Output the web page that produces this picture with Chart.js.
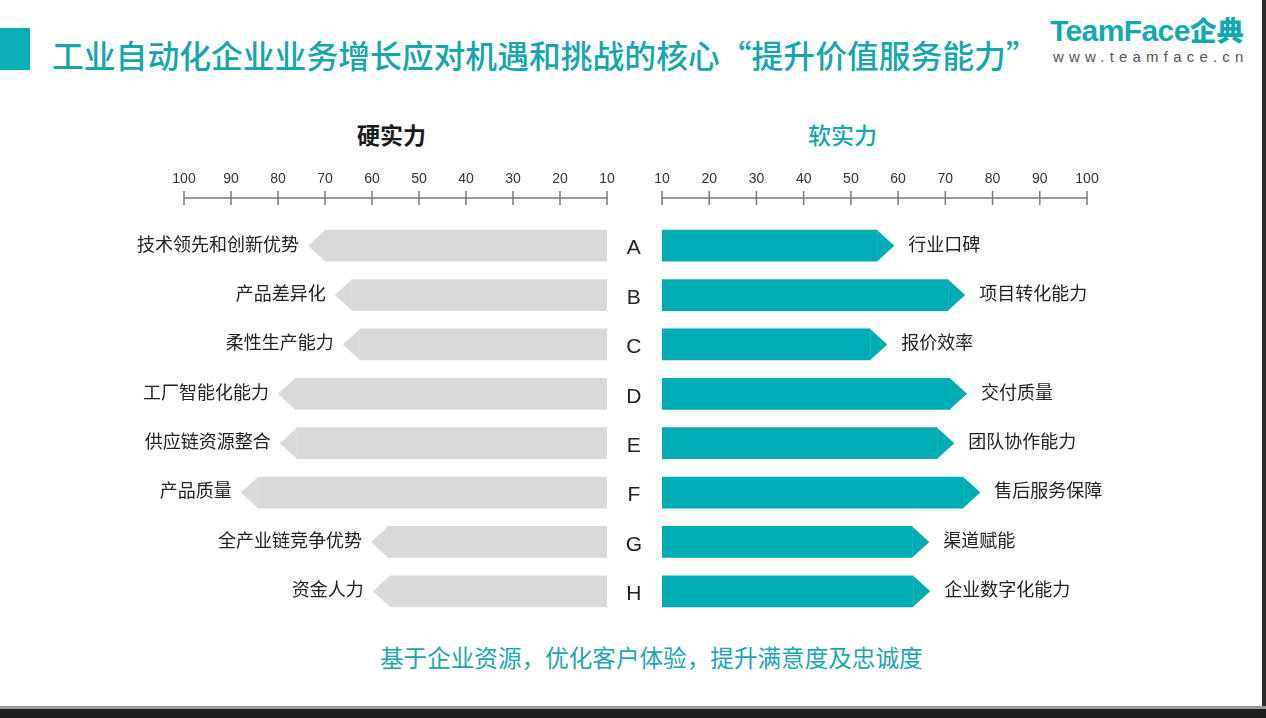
<!DOCTYPE html>
<html>
<head>
<meta charset="utf-8">
<script src="https://cdn.jsdelivr.net/npm/chart.js@4.4.0/dist/chart.umd.min.js"></script>
<style>
  body { margin: 0; width: 1266px; height: 718px; overflow: hidden; background: #fff; position: relative;
         font-family: "Noto Sans CJK SC", sans-serif; }
  .abs { position: absolute; white-space: nowrap; }
  #mark { left: 0; top: 28px; width: 30px; height: 42px; background: #0aadb5; }
  #title { left: 52px; top: 32px; font-size: 31.8px; line-height: 44px; color: #15a6ae; font-weight: 500; }
  #logo { left: 1050px; top: 13px; font-family: "Liberation Sans", sans-serif; font-weight: bold; font-size: 30px;
          line-height: 34px; color: #12a9b1; letter-spacing: -0.6px; }
  #logo span { font-family: "Noto Sans CJK SC"; font-weight: 900; font-size: 27px; letter-spacing: 0; }
  #site { left: 1053px; top: 47px; font-family: "Liberation Sans", sans-serif; font-size: 15px; line-height: 20px;
          color: #555; letter-spacing: 5.2px; }
  .head { top: 118px; font-size: 23px; line-height: 32px; font-weight: bold; }
  #hard { left: 357px; color: #1a1a1a; }
  #soft { left: 808px; color: #15a6ae; font-weight: 500; }
  #foot { left: 380px; top: 640px; font-size: 23.6px; line-height: 34px; color: #1aa7af; }
  #leftChart { left: 0; top: 160px; }
  #rightChart { left: 607px; top: 160px; }
  #edge { left: 1262px; top: 0; width: 4px; height: 718px; background: #2a2a2a; }
  #bottomLine { left: 0; top: 706px; width: 1266px; height: 3px; background: #9c9c9c; }
  #bottomBand { left: 0; top: 709px; width: 1266px; height: 9px; background: #1e1e1e; }
</style>
</head>
<body>
<div class="abs" id="mark"></div>
<div class="abs" id="title">工业自动化企业业务增长应对机遇和挑战的核心“提升价值服务能力”</div>
<div class="abs" id="logo">TeamFace<span>企典</span></div>
<div class="abs" id="site">www.teamface.cn</div>
<div class="abs head" id="hard">硬实力</div>
<div class="abs head" id="soft">软实力</div>
<canvas class="abs" id="leftChart" width="620" height="456"></canvas>
<canvas class="abs" id="rightChart" width="659" height="456"></canvas>
<div class="abs" id="foot">基于企业资源，优化客户体验，提升满意度及忠诚度</div>
<div class="abs" id="edge"></div>
<div class="abs" id="bottomLine"></div>
<div class="abs" id="bottomBand"></div>

<script>
// data
const categories = ['A', 'B', 'C', 'D', 'E', 'F', 'G', 'H'];
const hardLabels = ['技术领先和创新优势', '产品差异化', '柔性生产能力', '工厂智能化能力', '供应链资源整合', '产品质量', '全产业链竞争优势', '资金人力'];
const hardValues = [70, 64.3, 62.6, 76.4, 76, 84.3, 56.6, 56.2];
const softLabels = ['行业口碑', '项目转化能力', '报价效率', '交付质量', '团队协作能力', '售后服务保障', '渠道赋能', '企业数字化能力'];
const softValues = [55.6, 70.6, 54.1, 71, 68.3, 73.8, 63, 63.2];
const axisTicks = [10, 20, 30, 40, 50, 60, 70, 80, 90, 100];

const TIP = 17;

// arrow tip on each bar + the label just past it
const arrowPlugin = {
    id: 'arrows',
    afterDatasetsDraw(chart, args, opts) {
        const ctx = chart.ctx;
        const meta = chart.getDatasetMeta(0);
        const dir = opts.dir;
        ctx.save();
        ctx.fillStyle = chart.data.datasets[0].backgroundColor;
        meta.data.forEach(bar => {
            const h = bar.height / 2;
            ctx.beginPath();
            ctx.moveTo(bar.x, bar.y - h);
            ctx.lineTo(bar.x + dir * TIP, bar.y);
            ctx.lineTo(bar.x, bar.y + h);
            ctx.closePath();
            ctx.fill();
        });
        ctx.font = '18px "Noto Sans CJK SC"';
        ctx.fillStyle = '#222';
        ctx.textBaseline = 'middle';
        ctx.textAlign = dir < 0 ? 'right' : 'left';
        meta.data.forEach((bar, i) => {
            ctx.fillText(opts.labels[i], bar.x + dir * (TIP + opts.gap), bar.y - 2);
        });
        ctx.restore();
    }
};

// axis line with ticks crossing it, drawn from the x scale
const axisPlugin = {
    id: 'axisLine',
    afterDraw(chart) {
        const xs = chart.scales.x;
        const ctx = chart.ctx;
        const y = chart.chartArea.top - 23;
        ctx.save();
        ctx.strokeStyle = '#7a7a7a';
        ctx.lineWidth = 1.5;
        ctx.beginPath();
        ctx.moveTo(xs.getPixelForValue(10), y);
        ctx.lineTo(xs.getPixelForValue(100), y);
        axisTicks.forEach(v => {
            const x = xs.getPixelForValue(v);
            ctx.moveTo(x, y - 7);
            ctx.lineTo(x, y + 7);
        });
        ctx.stroke();
        ctx.restore();
    }
};

function makeChart(id, values, labels, color, reverse, showLetters, padding, dir, gap) {
    return new Chart(document.getElementById(id), {
        type: 'bar',
        data: {
            labels: categories,
            datasets: [{
                data: values,
                base: 10,
                backgroundColor: color,
                barThickness: 31,
                borderWidth: 0
            }]
        },
        options: {
            indexAxis: 'y',
            responsive: false,
            animation: false,
            layout: { padding: padding },
            plugins: {
                legend: { display: false },
                tooltip: { enabled: false },
                arrows: { dir: dir, labels: labels, gap: gap }
            },
            scales: {
                x: {
                    position: 'top',
                    min: 10,
                    max: 100,
                    reverse: reverse,
                    afterBuildTicks: s => { s.ticks = axisTicks.map(v => ({ value: v })); },
                    afterFit: s => { s.height = 61; },
                    grid: { display: false, drawTicks: false },
                    border: { display: false },
                    ticks: {
                        padding: 33,
                        color: '#333',
                        font: { family: 'Liberation Sans', size: 14 },
                        maxRotation: 0
                    }
                },
                y: {
                    display: showLetters,
                    afterFit: s => {
                        if (showLetters) s.width = 55;
                        s.paddingTop = 0;
                        s.paddingBottom = 0;
                    },
                    grid: { display: false, drawTicks: false },
                    border: { display: false },
                    ticks: {
                        padding: 20,
                        labelOffset: 3,
                        crossAlign: 'center',
                        color: '#222',
                        font: { family: 'Liberation Sans', size: 21 }
                    }
                }
            }
        },
        plugins: [arrowPlugin, axisPlugin]
    });
}

makeChart('leftChart', hardValues, hardLabels, '#d9d9d9', true, false,
    { left: 184, right: 13, top: 0, bottom: 0 }, -1, 9);
makeChart('rightChart', softValues, softLabels, '#00adb5', false, true,
    { left: 0, right: 179, top: 0, bottom: 0 }, 1, 14);
</script>
</body>
</html>
